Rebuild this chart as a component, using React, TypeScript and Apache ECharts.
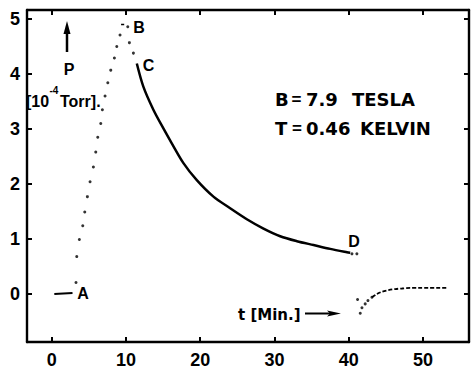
import React, { useEffect, useRef } from "react";
import * as echarts from "echarts";

const X_TICKS = [0, 10, 20, 30, 40, 50];
const Y_TICKS = [0, 1, 2, 3, 4, 5];
const X_MIN = -3.33;
const X_MAX = 56.2;
const Y_MIN = -0.873;
const Y_MAX = 5.164;

const flatA = [[0.35, 0.0], [2.8, 0.02]];
const riseDots = [
  [3.27, 0.21], [3.37, 0.68], [3.72, 0.99], [4.18, 1.24], [4.45, 1.49],
  [4.8, 1.77], [5.16, 2.04], [5.61, 2.31], [5.93, 2.58], [6.2, 2.85],
  [6.6, 3.1], [6.82, 3.35], [7.18, 3.6], [7.55, 3.84], [7.95, 4.07],
  [8.44, 4.29], [8.76, 4.5], [9.2, 4.71], [10.24, 4.86], [10.46, 4.57], [11.0, 4.38],
];
const peakDash = [[9.34, 4.9], [9.76, 4.9]];
const decayCD = [
  [11.46, 4.19], [12.34, 3.77], [13.69, 3.35], [15.04, 3.01], [16.17, 2.74],
  [17.74, 2.38], [19.54, 2.07], [21.78, 1.77], [24.03, 1.56], [26.28, 1.36],
  [28.52, 1.19], [30.77, 1.05], [33.02, 0.96], [35.26, 0.89], [37.51, 0.82],
  [39.76, 0.76], [40.2, 0.75],
];
const dDots = [[40.43, 0.73], [41.1, 0.73]];
const recoveryDots = [
  [41.19, -0.1], [41.55, -0.35], [41.78, -0.25], [42.22, -0.18], [42.59, -0.12], [43.13, -0.06],
];
const recoveryDashed = [
  [43.13, -0.06], [43.8, 0.0], [44.47, 0.04], [45.36, 0.07], [46.27, 0.09],
  [47.17, 0.1], [48.29, 0.11], [49.41, 0.11], [50.75, 0.11], [51.89, 0.11], [53.14, 0.11],
];

const FONT_WIDE = "DejaVu Sans";
const FONT = "Liberation Sans";

function txt(text: string, x: number, y: number, size: number, align = "center", family = FONT) {
  return {
    type: "text",
    x,
    y,
    silent: true,
    style: {
      text,
      fill: "#000",
      fontSize: size,
      fontWeight: "bold",
      fontFamily: family,
      align,
      textAlign: align,
      verticalAlign: "middle",
      textVerticalAlign: "middle",
    },
  };
}

export default function App() {
  const ref = useRef<HTMLDivElement>(null);
  useEffect(() => {
    if (!ref.current) return;
    const chart = echarts.init(ref.current, null, { renderer: "svg" });
    const axisCommon = {
      type: "value",
      splitLine: { show: false },
      axisLine: { show: true, onZero: false, lineStyle: { color: "#000", width: 2.4 } },
    };
    const labelStyle = {
      color: "#000",
      fontSize: 18,
      lineHeight: 18,
      fontWeight: "bold",
      fontFamily: FONT,
    };
    chart.setOption({
      animation: false,
      backgroundColor: "#fff",
      grid: { left: 27, right: 3, top: 10, bottom: 29, containLabel: false, outerBoundsMode: "none" },
      xAxis: [
        {
          ...axisCommon,
          position: "bottom",
          min: X_MIN,
          max: X_MAX,
          axisTick: { show: true, inside: true, length: 5, customValues: X_TICKS, lineStyle: { color: "#000", width: 2 } },
          axisLabel: { ...labelStyle, margin: 9, customValues: X_TICKS },
        },
        {
          ...axisCommon,
          position: "top",
          min: X_MIN,
          max: X_MAX,
          axisTick: { show: true, inside: true, length: 5, customValues: X_TICKS, lineStyle: { color: "#000", width: 2 } },
          axisLabel: { show: false },
        },
      ],
      yAxis: [
        {
          ...axisCommon,
          position: "left",
          min: Y_MIN,
          max: Y_MAX,
          axisTick: { show: true, inside: true, length: 5, customValues: Y_TICKS, lineStyle: { color: "#000", width: 2 } },
          axisLabel: { ...labelStyle, margin: 7, customValues: Y_TICKS },
        },
        {
          ...axisCommon,
          position: "right",
          min: Y_MIN,
          max: Y_MAX,
          axisTick: { show: true, inside: true, length: 5, customValues: Y_TICKS, lineStyle: { color: "#000", width: 2 } },
          axisLabel: { show: false },
        },
      ],
      series: [
        { type: "line", data: flatA, symbol: "none", lineStyle: { color: "#000", width: 2 } },
        { type: "scatter", data: riseDots, symbolSize: 3, itemStyle: { color: "#000" } },
        { type: "line", data: peakDash, symbol: "none", lineStyle: { color: "#000", width: 1.5 } },
        { type: "line", data: decayCD, symbol: "none", smooth: 0.3, lineStyle: { color: "#000", width: 2.5 } },
        { type: "scatter", data: dDots, symbolSize: 3, itemStyle: { color: "#000" } },
        { type: "scatter", data: recoveryDots, symbolSize: 3, itemStyle: { color: "#000" } },
        { type: "line", data: recoveryDashed, symbol: "none", smooth: 0.3, lineStyle: { color: "#000", width: 1.8, type: [4, 2] } },
      ],
      graphic: [
        txt("A", 83, 293, 16),
        txt("B", 139, 27.5, 16),
        txt("C", 148.5, 65, 16),
        txt("D", 354, 241, 16),
        txt("P", 69, 69, 16),
        txt("[10", 26, 101, 16, "left"),
        txt("-4", 49.5, 90, 10, "left"),
        txt("Torr].", 60, 101, 16, "left"),
        txt("B", 275, 99, 18, "left", FONT_WIDE),
        txt("=", 296.5, 99, 17, "center", FONT),
        txt("7.9", 306, 99, 18, "left", FONT_WIDE),
        txt("TESLA", 352, 99, 18, "left", FONT_WIDE),
        txt("T", 275, 128, 18, "left", FONT_WIDE),
        txt("=", 297, 128, 17, "center", FONT),
        txt("0.46", 306, 128, 18, "left", FONT_WIDE),
        txt("KELVIN", 360, 128, 18, "left", FONT_WIDE),
        txt("t [Min.]", 238, 315, 15, "left", FONT_WIDE),
        { type: "line", silent: true, shape: { x1: 67, y1: 52, x2: 67, y2: 32 }, style: { stroke: "#000", lineWidth: 2.5 } },
        { type: "polygon", silent: true, shape: { points: [[67, 21], [63.5, 34], [70.5, 34]] }, style: { fill: "#000" } },
        { type: "line", silent: true, shape: { x1: 305, y1: 313.5, x2: 330, y2: 313.5 }, style: { stroke: "#000", lineWidth: 2 } },
        { type: "polygon", silent: true, shape: { points: [[341, 313.5], [327, 310.5], [330, 313.5], [327, 316.5]] }, style: { fill: "#000" } },
      ],
    });
    return () => chart.dispose();
  }, []);
  return (
    <div
      ref={ref}
      style={{ position: "absolute", left: 0, top: 0, width: 472, height: 371, background: "#fff" }}
    />
  );
}
